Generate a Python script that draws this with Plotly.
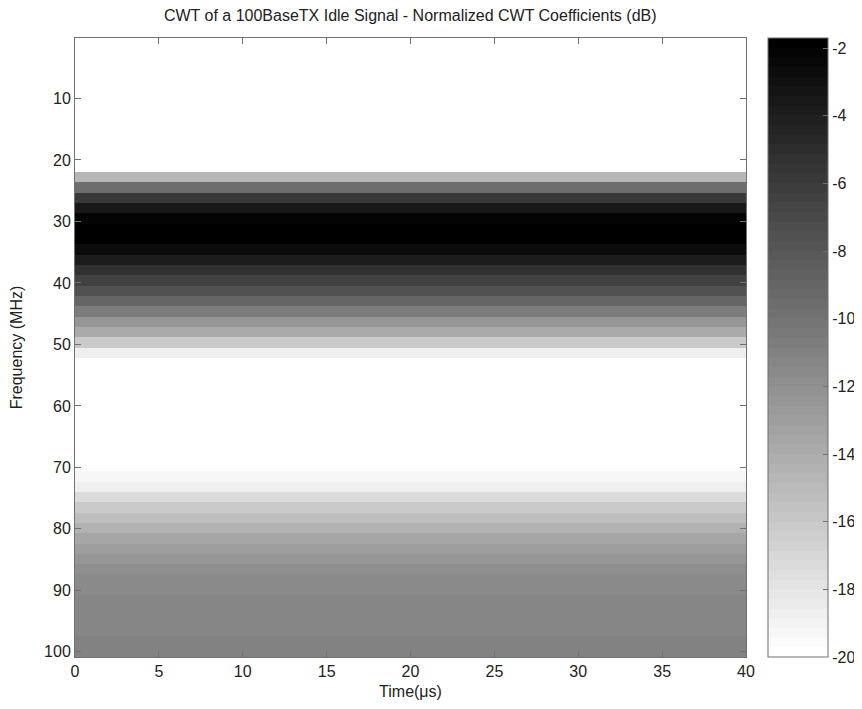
import plotly.graph_objects as go

# Time axis cell edges (microseconds)
time_edges_us = [0, 5, 10, 15, 20, 25, 30, 35, 40]

# Frequency row centers (MHz)
freq_mhz = [1.00, 2.68, 4.36, 6.03, 7.71, 9.39, 11.07, 12.75, 14.42, 16.10,
            17.78, 19.46, 21.14, 22.81, 24.49, 26.17, 27.85, 29.53, 31.20, 32.88,
            34.56, 36.24, 37.92, 39.59, 41.27, 42.95, 44.63, 46.31, 47.98, 49.66,
            51.34, 53.02, 54.70, 56.37, 58.05, 59.73, 61.41, 63.09, 64.76, 66.44,
            68.12, 69.80, 71.48, 73.15, 74.83, 76.51, 78.19, 79.86, 81.54, 83.22,
            84.90, 86.58, 88.25, 89.93, 91.61, 93.29, 94.97, 96.64, 98.32, 100.00]

# Normalized CWT coefficient (dB) per frequency row (constant over time)
coef_db = [-20, -20, -20, -20, -20, -20, -20, -20, -20, -20, -20, -20, -20,
           -14.62, -9.66, -5.93, -3.64, -2.06, -1.70, -1.77, -2.56, -3.86, -5.14,
           -6.29, -7.59, -9.02, -10.67, -12.39, -13.90, -16.05, -18.78,
           -20, -20, -20, -20, -20, -20, -20, -20, -20, -20, -20,
           -19.35, -18.64, -17.34, -16.27, -15.26, -14.33, -13.54, -12.90, -12.39,
           -11.96, -11.67, -11.46, -11.31, -11.24, -11.17, -11.17, -11.10, -11.10]

colorbar_ticks = [-2, -4, -6, -8, -10, -12, -14, -16, -18, -20]
colorbar_labels = ["-2", "-4", "-6", "-8", "-10", "-12", "-14", "-16", "-18", "-20"]
x_ticks = [0, 5, 10, 15, 20, 25, 30, 35, 40]
y_ticks = [10, 20, 30, 40, 50, 60, 70, 80, 90, 100]

ncols = len(time_edges_us) - 1
z = [[v] * ncols for v in coef_db]

# stepped inverted gray colormap (64 levels)
n = 64
cs = []
for i in range(n):
    g = round(255 * (1 - i / (n - 1)))
    c = f"rgb({g},{g},{g})"
    cs.append([i / n, c])
    cs.append([(i + 1) / n, c])

FONT = "Liberation Sans, Arial, Helvetica, sans-serif"
AX = "#707070"
TXT = "#222"

fig = go.Figure(go.Heatmap(
    x=time_edges_us, y=freq_mhz, z=z,
    zmin=-20, zmax=-1.7, colorscale=cs,
    colorbar=dict(
        x=1.0332, xanchor="left", xpad=0, y=0.5, yanchor="middle",
        len=1, lenmode="fraction", thickness=60, thicknessmode="pixels",
        ypad=0, outlinewidth=1, outlinecolor=AX,
        tickvals=colorbar_ticks, ticktext=colorbar_labels,
        ticks="inside", ticklen=5, tickcolor=AX,
        tickfont=dict(family=FONT, size=16, color=TXT),
    ),
    showscale=True,
))

fig.update_layout(
    width=854, height=701,
    margin=dict(l=67, r=116, t=30, b=52, autoexpand=False),
    paper_bgcolor="white", plot_bgcolor="white",
    title=dict(text="CWT of a 100BaseTX Idle Signal - Normalized CWT Coefficients (dB)",
               x=0.471, xanchor="center", y=0.989, yanchor="middle",
               font=dict(family=FONT, size=16, color=TXT)),
    font=dict(family=FONT, size=16, color=TXT),
)
fig.update_xaxes(
    range=[0, 40], tickvals=x_ticks, ticks="inside", ticklen=6, tickcolor=AX,
    showline=True, linecolor=AX, linewidth=1, mirror="ticks",
    showgrid=False, zeroline=False, automargin=False,
    title=dict(text="Time(μs)", standoff=6, font=dict(family=FONT, size=16, color=TXT)),
    tickfont=dict(family=FONT, size=16, color=TXT),
)
fig.update_yaxes(
    autorange="reversed", tickvals=y_ticks, ticks="inside", ticklen=6, tickcolor=AX,
    showline=True, linecolor=AX, linewidth=1, mirror="ticks",
    showgrid=False, zeroline=False, automargin=False,
    title=dict(text="Frequency (MHz)", standoff=17, font=dict(family=FONT, size=16, color=TXT)),
    tickfont=dict(family=FONT, size=16, color=TXT),
)

fig.write_html("out.html")
